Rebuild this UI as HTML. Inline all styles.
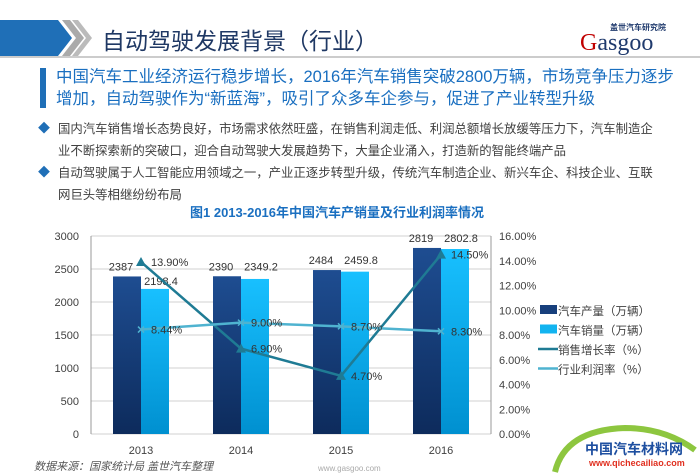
<!DOCTYPE html>
<html><head><meta charset="utf-8"><style>
body{margin:0;width:700px;height:476px;overflow:hidden;background:#fff;font-family:"Liberation Sans","Noto Sans CJK SC",sans-serif;position:relative}
.abs{position:absolute}
.b{font-size:12.4px;color:#404040;left:58px;line-height:22px;white-space:nowrap}
</style></head><body>
<div class="abs" style="left:0;top:20px;width:95px;height:36px">
<svg width="95" height="36"><polygon points="0,0 58,0 72,18 58,36 0,36" fill="#1f6fb7"/><polygon points="62,0 70,0 84,18 70,36 62,36 76,18" fill="#aaa"/><polygon points="72,0 78,0 92,18 78,36 72,36 86,18" fill="#bbb"/></svg></div>
<div class="abs" style="left:102px;top:22px;font-size:23px;color:#1f3864">自动驾驶发展背景（行业）</div>
<div class="abs" style="left:570px;top:24px;width:130px;height:30px">
<div style="position:absolute;left:40px;top:-2px;font-size:8px;color:#1f3a6d;font-weight:bold">盖世汽车研究院</div>
<div style="position:absolute;left:10px;top:6px;font-size:24px;color:#1f3a6d;font-family:'Liberation Serif',serif"><span style="color:#c00000">G</span>asgoo</div></div>
<div class="abs" style="left:0;top:56px;width:700px;height:2px;background:#ccc"></div>
<div class="abs" style="left:40px;top:68px;width:6px;height:40px;background:#1f6fb7"></div>
<div class="abs" style="left:56px;top:66px;font-size:16.5px;color:#1a6fc0;line-height:22px;width:640px">中国汽车工业经济运行稳步增长，2016年汽车销售突破2800万辆，市场竞争压力逐步<br>增加，自动驾驶作为“新蓝海”，吸引了众多车企参与，促进了产业转型升级</div>
<div class="abs" style="left:38px;top:119px;color:#1f6fb7;font-size:12px">◆</div>
<div class="abs b" style="top:118px">国内汽车销售增长态势良好，市场需求依然旺盛，在销售利润走低、利润总额增长放缓等压力下，汽车制造企<br>业不断探索新的突破口，迎合自动驾驶大发展趋势下，大量企业涌入，打造新的智能终端产品</div>
<div class="abs" style="left:38px;top:163px;color:#1f6fb7;font-size:12px">◆</div>
<div class="abs b" style="top:162px">自动驾驶属于人工智能应用领域之一，产业正逐步转型升级，传统汽车制造企业、新兴车企、科技企业、互联<br>网巨头等相继纷纷布局</div>
<div class="abs" style="left:190px;top:202px;font-size:13px;font-weight:bold;color:#1a6fc0">图1 2013-2016年中国汽车产销量及行业利润率情况</div>
<svg class="abs" style="left:0;top:0" width="700" height="476" id="chart">
<defs>
<linearGradient id="gd" x1="0" y1="0" x2="0" y2="1"><stop offset="0" stop-color="#1e4d91"/><stop offset="1" stop-color="#0d2b5c"/></linearGradient>
<linearGradient id="gl" x1="0" y1="0" x2="0" y2="1"><stop offset="0" stop-color="#18c0ff"/><stop offset="1" stop-color="#0090d0"/></linearGradient>
</defs>
<g id="g"></g></svg>
<div class="abs" style="left:34px;top:458px;font-size:11px;font-style:italic;color:#555">数据来源：国家统计局 盖世汽车整理</div>
<div class="abs" style="left:318px;top:464px;font-size:8px;color:#aaa">www.gasgoo.com</div>
<div class="abs" style="left:545px;top:420px;width:155px;height:56px">
<svg width="155" height="56" style="position:absolute;left:0;top:0"><path d="M10,52 Q20,10 80,8 Q120,8 150,30" fill="none" stroke="#8dc63f" stroke-width="6"/></svg>
<div style="position:absolute;left:40px;top:19px;font-size:14px;font-weight:bold;color:#1e4fa0;white-space:nowrap">中国汽车材料网</div>
<div style="position:absolute;left:44px;top:38px;font-size:9px;font-weight:bold;color:#e03020;white-space:nowrap">www.qichecailiao.com</div></div>
<script>
const categories=["2013","2014","2015","2016"];
const production=[2387,2390,2484,2819];
const sales=[2198.4,2349.2,2459.8,2802.8];
const salesGrowth=[13.90,6.90,4.70,14.50];
const profitRate=[8.44,9.00,8.70,8.30];
const leftTicks=[0,500,1000,1500,2000,2500,3000];
const rightTicks=[0,2,4,6,8,10,12,14,16];
const NS="http://www.w3.org/2000/svg",g=document.getElementById('g');
const X0=91,X1=491,Y0=434,Y1=236;
const yL=v=>Y0-(v/3000)*(Y0-Y1), yR=v=>Y0-(v/16)*(Y0-Y1);
const band=(X1-X0)/categories.length, cx=i=>X0+band*(i+0.5);
function el(t,a,txt){const e=document.createElementNS(NS,t);for(const k in a)e.setAttribute(k,a[k]);if(txt!=null)e.textContent=txt;g.appendChild(e);return e}
leftTicks.forEach(v=>{const l=el('line',{x1:X0,x2:X1,y1:yL(v),y2:yL(v),stroke:'#d0d0d0'});

const t=el('text',{x:X0-12,y:yL(v)+4,'text-anchor':'end','font-size':11,fill:'#404040'},v);
});
rightTicks.forEach(v=>{const t=el('text',{x:X1+8,y:yR(v)+4,'font-size':11,fill:'#404040'},v.toFixed(2)+'%');
});
el('line',{x1:X0,x2:X0,y1:Y1,y2:Y0,stroke:'#999'});el('line',{x1:X1,x2:X1,y1:Y1,y2:Y0,stroke:'#999'});
categories.forEach((c,i)=>{
const t=el('text',{x:cx(i),y:Y0+20,'text-anchor':'middle','font-size':11,fill:'#404040'},c);

const b1=el('rect',{x:cx(i)-28,y:yL(production[i]),width:28,height:Y0-yL(production[i]),fill:'url(#gd)'});

const b2=el('rect',{x:cx(i),y:yL(sales[i]),width:28,height:Y0-yL(sales[i]),fill:'url(#gl)'});

el('text',{x:cx(i)-20,y:yL(production[i])-6,'text-anchor':'middle','font-size':11,fill:'#333'},production[i]);
el('text',{x:cx(i)+20,y:(i==0?yL(sales[i])-4:yL(production[i])-6),'text-anchor':'middle','font-size':11,fill:'#333'},sales[i]);
});
function line(arr,color,name,marker){
const p=el('polyline',{points:arr.map((v,i)=>cx(i)+','+yR(v)).join(' '),fill:'none',stroke:color,'stroke-width':2.5});

arr.forEach((v,i)=>{const x=cx(i),y=yR(v);
if(marker=='tri')el('polygon',{points:`${x-5},${y+4} ${x+5},${y+4} ${x},${y-5}`,fill:color});
else{el('path',{d:`M${x-3},${y-3}L${x+3},${y+3}M${x-3},${y+3}L${x+3},${y-3}`,stroke:color,'stroke-width':1.5});}
el('text',{x:x+10,y:y+4,'font-size':11,fill:'#333'},v.toFixed(2)+'%');});}
line(salesGrowth,'#1f7b94','line-sales-growth','tri');
line(profitRate,'#4fb3d0','line-profit-rate','x');
const leg=[['汽车产量（万辆）','#173f7c','r'],['汽车销量（万辆）','#12b4f0','r'],['销售增长率（%）','#1f7b94','t'],['行业利润率（%）','#4fb3d0','x']];
leg.forEach((L,i)=>{const y=310+i*19.5;
if(L[2]=='r')el('rect',{x:540,y:y-5,width:17,height:9,fill:L[1]});
else{el('line',{x1:538,x2:558,y1:y,y2:y,stroke:L[1],'stroke-width':2.5});}
const t=el('text',{x:558,y:y+5,'font-size':11.5,fill:'#404040'},L[0]);
});
</script>
</body></html>
